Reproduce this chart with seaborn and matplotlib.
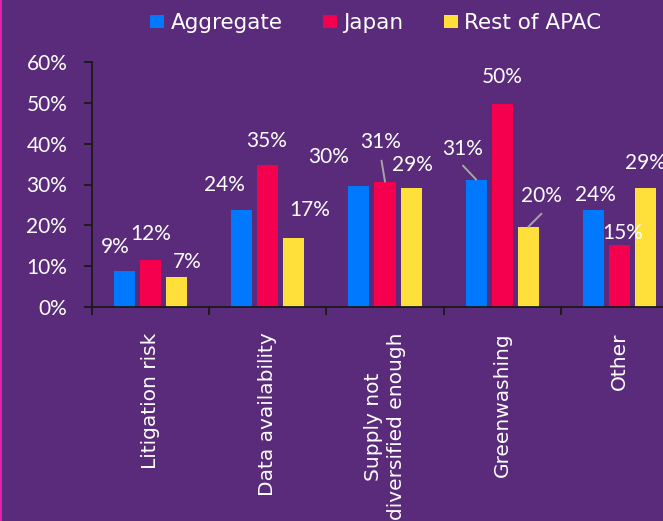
import numpy as np
import pandas as pd
import matplotlib
matplotlib.use("Agg")
import matplotlib.pyplot as plt
import seaborn as sns
from matplotlib.patches import Patch, Rectangle

# ---------------- data ----------------
categories = ["Litigation risk", "Data availability", "Supply not\ndiversified enough",
              "Greenwashing", "Other"]
series = ["Aggregate", "Japan", "Rest of APAC"]
aggregate = [8.9, 23.8, 29.7, 31.2, 23.8]
japan = [11.6, 34.7, 30.7, 49.8, 15.2]
rest_apac = [7.4, 17.0, 29.2, 19.6, 29.2]
y_ticks = [0, 10, 20, 30, 40, 50, 60]

# ---------------- style ----------------
colors = ["#0079FF", "#F5004F", "#FFE03A"]
BG = "#5A2A7B"
AXIS = "#1A1A1A"
LEADER = "#A6A6A6"
W, H = 663, 521
PX = 0.72  # px -> pt at dpi 100

# data label offsets (px, right / up) relative to bar top centre
label_off = [
    [(-9, 25.5), (-17, 27), (-30, 30.5), (-13.5, 33), (2.5, 16.5)],
    [(0, 27.5), (-1, 26), (-4, 41.5), (0, 29), (3, 14)],
    [(10.5, 16.5), (15.5, 29.5), (1.5, 25), (13, 32.5), (-0.5, 26.5)],
]
# leader lines: (series index, category index, start offset px right, up)
leaders = [(1, 2, -3.5, 21), (0, 3, -13.2, 14), (2, 3, 13.2, 13.3)]

df = pd.DataFrame({
    "category": categories * 3,
    "series": [series[0]] * 5 + [series[1]] * 5 + [series[2]] * 5,
    "value": aggregate + japan + rest_apac,
})

fig = plt.figure(figsize=(W / 100, H / 100), dpi=100, facecolor=BG)
ax = fig.add_axes([92 / W, 214 / H, 586 / W, 245 / H], facecolor=BG)

sns.barplot(data=df, x="category", y="value", hue="series", order=categories,
            hue_order=series, palette=colors, width=0.667, gap=0.19,
            saturation=1, linewidth=0, legend=False, ax=ax)

ax.set_xlim(-0.5, 4.5)
ax.set_ylim(0, 60)
ax.set_xlabel("")
ax.set_ylabel("")

for s in ["top", "right"]:
    ax.spines[s].set_visible(False)
for s in ["left", "bottom"]:
    ax.spines[s].set_color(AXIS)
    ax.spines[s].set_linewidth(1.3)

ax.set_yticks(y_ticks)
ax.set_yticklabels([f"{t}%" for t in y_ticks], fontsize=15, family="Lato", color="white")
ax.tick_params(axis="y", length=5.8, width=1.3, color=AXIS, pad=12)

ax.set_xticks(range(len(categories)))
ax.set_xticklabels(categories, rotation=90, fontsize=14.5, family="DejaVu Sans",
                   color="white", linespacing=1.25)
ax.tick_params(axis="x", which="major", length=0, pad=18.5)
ax.set_xticks(np.arange(-0.5, len(categories), 1), minor=True)
ax.tick_params(axis="x", which="minor", length=5.8, width=1.3, color=AXIS)

# data labels
for i, cont in enumerate(ax.containers):
    for j, bar in enumerate(cont):
        x = bar.get_x() + bar.get_width() / 2
        h = bar.get_height()
        dx, dy = label_off[i][j]
        ax.annotate(f"{h:.0f}%", xy=(x, h), xytext=(dx * PX, dy * PX),
                    textcoords="offset points", ha="center", va="center_baseline",
                    fontsize=15, family="Lato", color="white",
                    annotation_clip=False)

for si, ci, dx, dy in leaders:
    bar = ax.containers[si][ci]
    x = bar.get_x() + bar.get_width() / 2
    h = bar.get_height()
    ax.annotate("", xy=(x, h), xytext=(dx * PX, dy * PX), textcoords="offset points",
                arrowprops=dict(arrowstyle="-", color=LEADER, lw=1.4,
                                shrinkA=0, shrinkB=0),
                annotation_clip=False)

handles = [Patch(facecolor=c, edgecolor="none", label=s) for c, s in zip(colors, series)]
fig.legend(handles=handles, loc="center", bbox_to_anchor=(376 / W, 1 - 23 / H),
           ncol=3, frameon=False, prop=dict(family="DejaVu Sans", size=15.5),
           labelcolor="white", handlelength=0.63, handleheight=0.56,
           handletextpad=0.3, columnspacing=1.9)

fig.add_artist(Rectangle((0, 0), 2.2 / W, 1, transform=fig.transFigure,
                         facecolor="#E020B0", edgecolor="none"))

fig.savefig("out.png", dpi=100, facecolor=BG)
